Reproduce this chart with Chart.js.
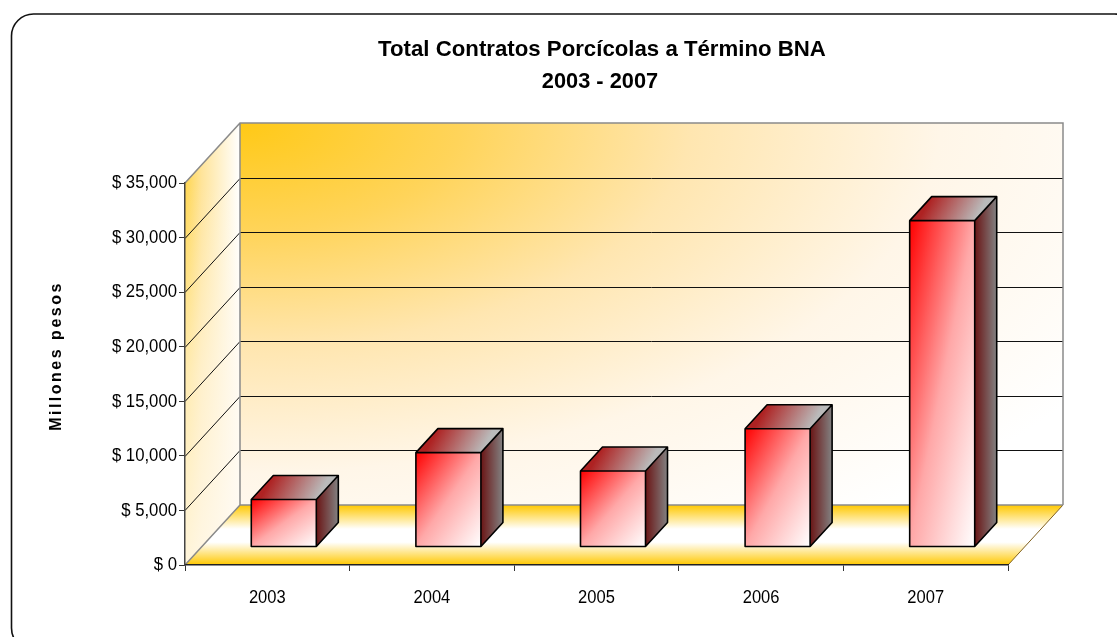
<!DOCTYPE html>
<html>
<head>
<meta charset="utf-8">
<script src="https://cdn.jsdelivr.net/npm/chart.js@4.4.1/dist/chart.umd.min.js"></script>
<style>
  html, body { margin: 0; padding: 0; background: #fff; }
  #c { display: block; }
</style>
</head>
<body>
<canvas id="c" width="1117" height="637"></canvas>
<script>
const categories = ['2003', '2004', '2005', '2006', '2007'];
const values = [4350, 8650, 6970, 10830, 29900];
const yMin = 0, yMax = 35000, yStep = 5000;
const titleLines = ['Total Contratos Porcícolas a Término BNA', '2003 - 2007'];
const yAxisTitle = 'Millones pesos';

const SANS = '"Liberation Sans", Arial, Helvetica, sans-serif';
const DX = 55, DY = -60;          // depth projection of the 3D walls
const BAR_FRONT = 0.3, BAR_DEPTH = 0.4;
const fmtMoney = v => '$ ' + Number(v).toLocaleString('en-US');

function roundRect(ctx, x, y, w, h, r) {
  ctx.beginPath();
  ctx.moveTo(x + r, y);
  ctx.lineTo(x + w - r, y);
  ctx.arcTo(x + w, y, x + w, y + r, r);
  ctx.lineTo(x + w, y + h - r);
  ctx.arcTo(x + w, y + h, x + w - r, y + h, r);
  ctx.lineTo(x + r, y + h);
  ctx.arcTo(x, y + h, x, y + h - r, r);
  ctx.lineTo(x, y + r);
  ctx.arcTo(x, y, x + r, y, r);
  ctx.closePath();
}

// text with a horizontal squeeze (emulates a narrow face)
function narrowText(ctx, text, x, y, font, sx, align, baseline) {
  ctx.save();
  ctx.font = font;
  ctx.textAlign = align;
  ctx.textBaseline = baseline;
  ctx.translate(x, y);
  ctx.scale(sx, 1);
  ctx.fillText(text, 0, 0);
  ctx.restore();
}

const scene3d = {
  id: 'scene3d',
  beforeDraw(chart) {
    const ctx = chart.ctx, ca = chart.chartArea, ys = chart.scales.y;
    ctx.save();
    ctx.fillStyle = '#fff';
    ctx.fillRect(0, 0, chart.width, chart.height);

    // outer rounded frame
    ctx.lineWidth = 1.6;
    ctx.strokeStyle = '#111';
    roundRect(ctx, 11.5, 14, 1125, 636, 22);
    ctx.stroke();

    const L = ca.left, R = ca.right, T = ca.top, B = ca.bottom;

    // back wall
    ctx.save();
    ctx.beginPath();
    ctx.rect(L + DX, T + DY, R - L, B - T);
    ctx.clip();
    ctx.translate(L + DX, T + DY);
    ctx.scale(1, 0.5);
    let g = ctx.createRadialGradient(0, 0, 0, 0, 0, 1000);
    g.addColorStop(0, '#FFC916');
    g.addColorStop(0.22, '#FFD45A');
    g.addColorStop(0.45, '#FFE6B0');
    g.addColorStop(0.7, '#FFF6E8');
    g.addColorStop(1, '#FFFFFF');
    ctx.fillStyle = g;
    ctx.fillRect(-50, -50, R - L + 100, (B - T) * 2 + 100);
    ctx.restore();

    // side wall
    ctx.beginPath();
    ctx.moveTo(L, T); ctx.lineTo(L + DX, T + DY); ctx.lineTo(L + DX, B + DY); ctx.lineTo(L, B);
    ctx.closePath();
    g = ctx.createLinearGradient(L, 0, L + DX, 0);
    g.addColorStop(0, '#FFD650');
    g.addColorStop(0.3, '#FFE49A');
    g.addColorStop(1, '#FFFFFF');
    ctx.fillStyle = g;
    ctx.fill();
    g = ctx.createLinearGradient(0, T, 0, B);
    g.addColorStop(0, 'rgba(255,250,240,0)');
    g.addColorStop(0.5, 'rgba(255,248,235,0.6)');
    g.addColorStop(1, 'rgba(255,250,242,0.85)');
    ctx.fillStyle = g;
    ctx.fill();

    // floor
    ctx.beginPath();
    ctx.moveTo(L, B); ctx.lineTo(R, B); ctx.lineTo(R + DX, B + DY); ctx.lineTo(L + DX, B + DY);
    ctx.closePath();
    g = ctx.createLinearGradient(0, B + DY, 0, B);
    g.addColorStop(0, '#FFC800');
    g.addColorStop(0.4, '#FFFFFF');
    g.addColorStop(0.62, '#FFFFFF');
    g.addColorStop(1, '#FFC800');
    ctx.fillStyle = g;
    ctx.fill();
    ctx.lineWidth = 1;
    ctx.strokeStyle = '#806020';
    ctx.beginPath();
    ctx.moveTo(R, B); ctx.lineTo(R + DX, B + DY);
    ctx.stroke();

    // gridlines on side + back wall
    for (let v = yMin + yStep; v < yMax; v += yStep) {
      const y = Math.round(ys.getPixelForValue(v)) + 0.5;
      ctx.strokeStyle = '#111';
      ctx.lineWidth = 1;
      ctx.beginPath();
      ctx.moveTo(L, y); ctx.lineTo(L + DX, y + DY); ctx.lineTo(R + DX, y + DY);
      ctx.stroke();
    }
    // wall edges (gray)
    ctx.strokeStyle = '#8a8a8a';
    ctx.lineWidth = 1.5;
    const yT = ys.getPixelForValue(yMax), yB = ys.getPixelForValue(yMin);
    ctx.beginPath();
    ctx.moveTo(L, yT); ctx.lineTo(L + DX, yT + DY); ctx.lineTo(R + DX, yT + DY); ctx.lineTo(R + DX, yB + DY);
    ctx.moveTo(L + DX, yT + DY); ctx.lineTo(L + DX, yB + DY); ctx.lineTo(R + DX, yB + DY);
    ctx.moveTo(L, yB); ctx.lineTo(L + DX, yB + DY);
    ctx.stroke();

    // title
    ctx.fillStyle = '#000';
    narrowText(ctx, titleLines[0], 602, 56, 'bold 22px ' + SANS, 1.01, 'center', 'alphabetic');
    narrowText(ctx, titleLines[1], 600, 88, 'bold 22px ' + SANS, 0.99, 'center', 'alphabetic');

    // y axis title with letter spacing
    ctx.save();
    ctx.translate(57, 356);
    ctx.rotate(-Math.PI / 2);
    ctx.font = 'bold 16px ' + SANS;
    try { ctx.letterSpacing = '2.5px'; } catch (e) {}
    ctx.textAlign = 'center';
    ctx.textBaseline = 'middle';
    ctx.fillText(yAxisTitle, 0, 0);
    ctx.restore();

    ctx.restore();
  },
  afterDatasetsDraw(chart) {
    const ctx = chart.ctx;
    const meta = chart.getDatasetMeta(0);
    const fx = DX * BAR_FRONT, fy = DY * BAR_FRONT;
    const ddx = DX * BAR_DEPTH, ddy = DY * BAR_DEPTH;
    ctx.save();
    meta.data.forEach(bar => {
      const p = bar.getProps(['x', 'y', 'base', 'width'], true);
      const x0 = p.x - p.width / 2 + fx, x1 = p.x + p.width / 2 + fx;
      const yt = p.y + fy, yb = p.base + fy;

      // right side
      ctx.beginPath();
      ctx.moveTo(x1, yt); ctx.lineTo(x1 + ddx, yt + ddy); ctx.lineTo(x1 + ddx, yb + ddy); ctx.lineTo(x1, yb);
      ctx.closePath();
      let g = ctx.createLinearGradient(x1, 0, x1 + ddx, 0);
      g.addColorStop(0, '#6A1414');
      g.addColorStop(1, '#828282');
      ctx.fillStyle = g;
      ctx.fill();

      // top
      ctx.beginPath();
      ctx.moveTo(x0, yt); ctx.lineTo(x1, yt); ctx.lineTo(x1 + ddx, yt + ddy); ctx.lineTo(x0 + ddx, yt + ddy);
      ctx.closePath();
      g = ctx.createLinearGradient(x0 + ddx, yt + ddy, x1, yt);
      g.addColorStop(0, '#AE2222');
      g.addColorStop(1, '#BABABA');
      ctx.fillStyle = g;
      ctx.fill();

      // front: diagonal gradient in the face's own box (red top-left -> white bottom-right)
      ctx.save();
      ctx.translate(x0, yt);
      ctx.scale(x1 - x0, yb - yt);
      g = ctx.createLinearGradient(0, 0, 1, 1);
      g.addColorStop(0, '#FF0000');
      g.addColorStop(0.5, '#FFA8A8');
      g.addColorStop(1, '#FFFFFF');
      ctx.fillStyle = g;
      ctx.fillRect(0, 0, 1, 1);
      ctx.restore();

      // outlines
      ctx.strokeStyle = '#000';
      ctx.lineWidth = 1.6;
      ctx.lineJoin = 'round';
      ctx.beginPath();
      ctx.rect(x0, yt, x1 - x0, yb - yt);
      ctx.moveTo(x0, yt); ctx.lineTo(x0 + ddx, yt + ddy); ctx.lineTo(x1 + ddx, yt + ddy); ctx.lineTo(x1, yt);
      ctx.moveTo(x1 + ddx, yt + ddy); ctx.lineTo(x1 + ddx, yb + ddy); ctx.lineTo(x1, yb);
      ctx.stroke();
    });
    ctx.restore();
  },
  afterDraw(chart) {
    const ctx = chart.ctx, xs = chart.scales.x, ys = chart.scales.y;
    ctx.save();
    ctx.fillStyle = '#000';
    ys.ticks.forEach(t => {
      const y = ys.getPixelForValue(t.value);
      narrowText(ctx, fmtMoney(t.value), ys.right - 8, y, '19px ' + SANS, 0.88, 'right', 'middle');
    });
    categories.forEach((c, i) => {
      const x = xs.getPixelForTick(i);
      narrowText(ctx, c, x, xs.top + 33, '19px ' + SANS, 0.87, 'center', 'middle');
    });
    ctx.restore();
  }
};

new Chart(document.getElementById('c'), {
  type: 'bar',
  data: {
    labels: categories,
    datasets: [{
      data: values,
      backgroundColor: 'rgba(0,0,0,0)',
      borderWidth: 0,
      barPercentage: 0.395,
      categoryPercentage: 1
    }]
  },
  options: {
    responsive: false,
    animation: false,
    devicePixelRatio: 1,
    layout: { padding: { top: 183, right: 109, left: 0, bottom: 0 } },
    plugins: { legend: { display: false }, tooltip: { enabled: false }, title: { display: false } },
    scales: {
      x: {
        offset: true,
        grid: { drawOnChartArea: false, drawTicks: true, tickLength: 6, color: '#333', offset: true },
        border: { display: true, color: '#222', width: 1.5 },
        ticks: { display: false },
        afterFit: s => { s.height = 72; }
      },
      y: {
        min: yMin, max: yMax,
        grid: { drawOnChartArea: false, drawTicks: true, tickLength: 6, color: '#333' },
        border: { display: true, color: '#444', width: 1.5 },
        ticks: { display: false, stepSize: yStep },
        afterFit: s => { s.width = 185; }
      }
    }
  },
  plugins: [scene3d]
});
</script>
</body>
</html>
